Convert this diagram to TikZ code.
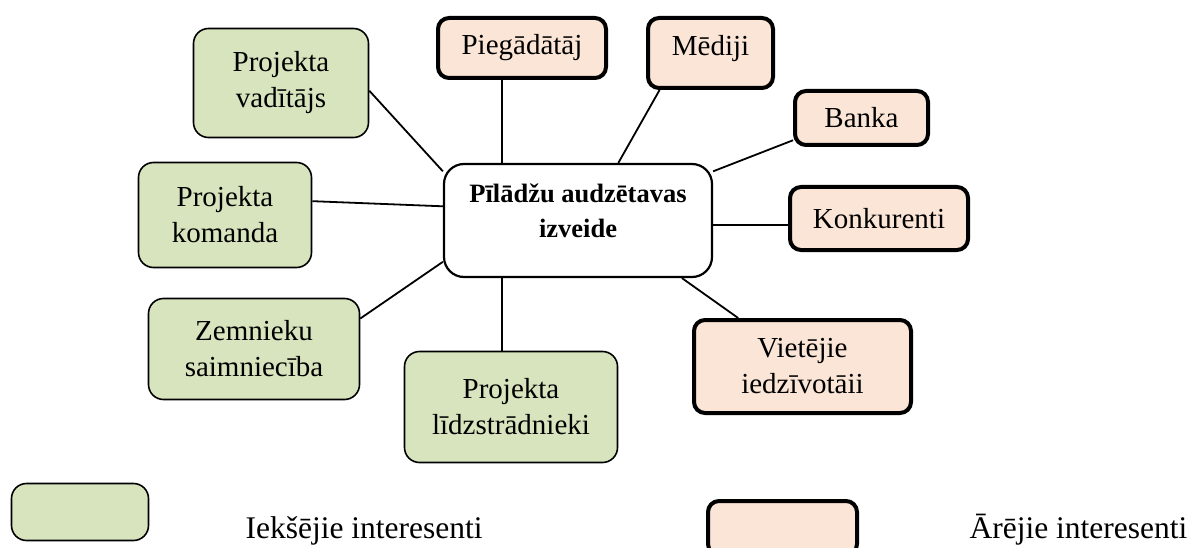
\documentclass[tikz,border=0pt]{standalone}
\usepackage{fontspec}
\setmainfont{Liberation Serif}
\definecolor{ingreen}{HTML}{D7E4BD}
\definecolor{outpeach}{HTML}{FBE5D6}
\begin{document}
\begin{tikzpicture}[x=1pt,y=-1pt,
    inbox/.style={draw=black,line width=1.6pt,fill=ingreen,rounded corners=15pt,
      inner sep=0pt,align=center,font=\fontsize{29}{36}\selectfont},
    outbox/.style={draw=black,line width=4pt,fill=outpeach,rounded corners=11pt,
      inner sep=0pt,align=center,font=\fontsize{29}{36}\selectfont},
    mainbox/.style={draw=black,line width=2.2pt,fill=white,rounded corners=20pt,
      inner sep=0pt,align=center,font=\fontsize{26.5}{35}\selectfont\bfseries},
    link/.style={line width=1.8pt}]
    \useasboundingbox (0,0) rectangle (1193,548);
    \clip (0,0) rectangle (1193,548);
    % centre
    \node[mainbox,minimum width=268,minimum height=113,text depth=20pt] (centre) at (578,220.5) {Pīlādžu audzētavas\\izveide};
    % iekšējie
    \node[inbox,minimum width=175,minimum height=109] (vad) at (281,83) {Projekta\\vadītājs};
    \node[inbox,minimum width=173,minimum height=105] (kom) at (225,215) {Projekta\\komanda};
    \node[inbox,minimum width=211,minimum height=101] (zemn) at (254,349) {Zemnieku\\saimniecība};
    \node[inbox,minimum width=213,minimum height=111] (lidz) at (511,407) {Projekta\\līdzstrādnieki};
    % ārējie
    \node[outbox,minimum width=168,minimum height=60] (pieg) at (522,48) {Piegādātāj};
    \node[outbox,minimum width=125,minimum height=70,text depth=16pt] (medi) at (710.5,53) {Mēdiji};
    \node[outbox,minimum width=133,minimum height=54] (banka) at (861.5,118) {Banka};
    \node[outbox,minimum width=178,minimum height=63] (konk) at (879,218.5) {Konkurenti};
    \node[outbox,minimum width=217,minimum height=93] (viet) at (802.5,366.5) {Vietējie\\iedzīvotāii};
    % savienojumi
    \draw[link] (vad.-5) -- (centre.160);
    \draw[link] (kom.9) -- (centre.174);
    \draw[link] (zemn.16) -- (centre.197);
    \draw[link] (lidz.99) -- (lidz.99 |- centre.south);
    \draw[link] (pieg.238) -- (pieg.238 |- centre.north);
    \draw[link] (medi.216) -- (centre.55);
    \draw[link] (banka.198) -- (centre.20);
    \draw[link] (konk.184) -- (konk.184 -| centre.east);
    \draw[link] (viet.143) -- (centre.-29);
    % leģenda
    \node[inbox,minimum width=137,minimum height=57] (legin) at (80,512) {};
    \node[anchor=base west,font=\fontsize{31.5}{36}\selectfont] (legintext) at (242,538) {Iekšējie interesenti};
    \node[outbox,minimum width=149,minimum height=54] (legout) at (782.5,528) {};
    \node[anchor=base west,font=\fontsize{31.5}{36}\selectfont] (legouttext) at (966,538) {Ārējie interesenti};
\end{tikzpicture}
\end{document}
